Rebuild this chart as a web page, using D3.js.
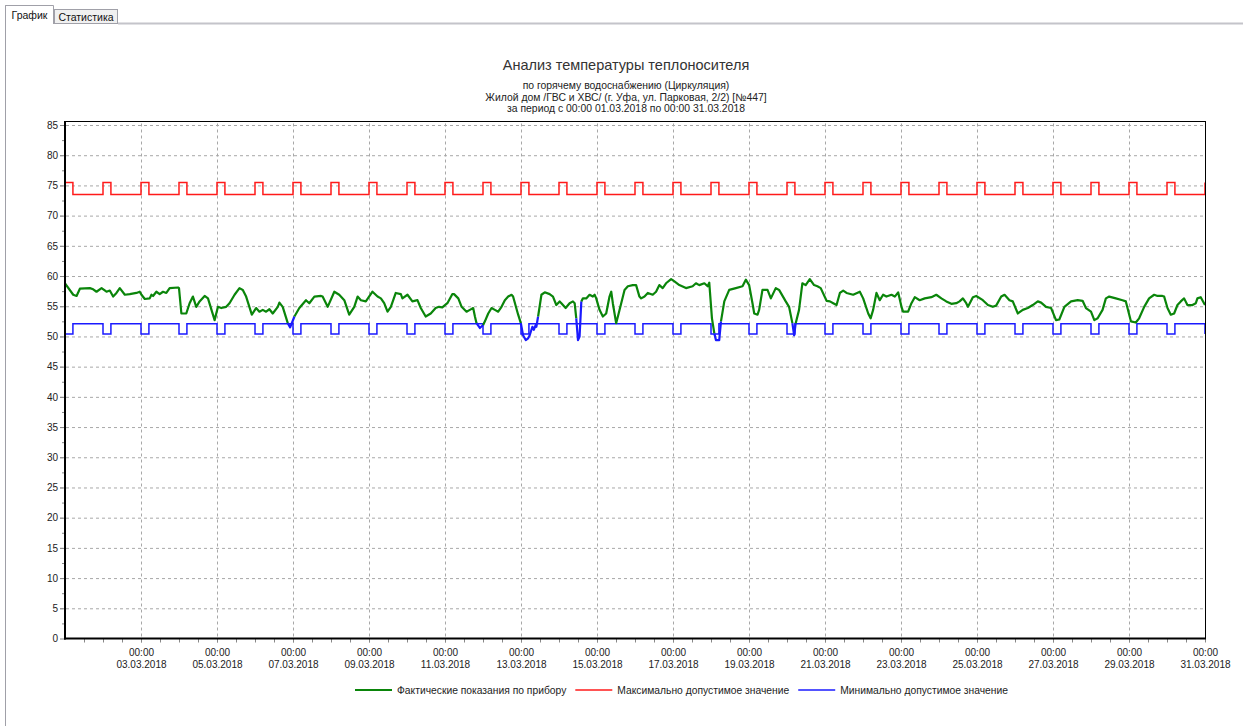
<!DOCTYPE html>
<html><head><meta charset="utf-8">
<script src="https://cdn.jsdelivr.net/npm/d3@7"></script>
<style>
html,body{margin:0;padding:0;background:#fff;}
svg{display:block;font-family:"Liberation Sans",Arial,sans-serif;}
</style></head><body>
<svg id="chart" width="1243" height="726"></svg>
<script>
// ---------------- DATA ----------------
const tabs = ["График", "Статистика"];
const title = "Анализ температуры теплоносителя";
const subtitleLines = [
  "по горячему водоснабжению (Циркуляция)",
  "Жилой дом /ГВС и ХВС/ (г. Уфа, ул. Парковая, 2/2) [№447]",
  "за период с 00:00 01.03.2018 по 00:00 31.03.2018"
];
const seriesNames = ["Фактические показания по прибору", "Максимально допустимое значение", "Минимально допустимое значение"];
const seriesColors = ["#0a850a", "#ff1a1a", "#1a1aff"];
const yTicks = [0,5,10,15,20,25,30,35,40,45,50,55,60,65,70,75,80,85];
const yMinorTicks = [2.5,7.5,12.5,17.5,22.5,27.5,32.5,37.5,42.5,47.5,52.5,57.5,62.5,67.5,72.5,77.5,82.5];
const xTickTime = "00:00";
const xTickLabels = ["03.03.2018","05.03.2018","07.03.2018","09.03.2018","11.03.2018","13.03.2018","15.03.2018",
  "17.03.2018","19.03.2018","21.03.2018","23.03.2018","25.03.2018","27.03.2018","29.03.2018","31.03.2018"];
const periodStart = "01.03.2018";
const periodEnd = "31.03.2018";
// allowed limits: night period (hours of day) and day level
const nightHours = [0, 5];
const maxLevels = {night: 75.5, day: 73.5};
const minLevels = {night: 50.4, day: 52.1};
// actual readings: [hours since 01.03.2018 00:00, °C]
const readings1 = [[0,58.8],[5.2,56.9],[7.3,56.7],[9.4,57.9],[15.7,58.0],[17.8,57.8],[19.9,57.4],[23.1,58.0],[26.2,57.4],[28.3,57.6],
 [30.4,56.6],[32.5,57.2],[34.6,58.0],[37.8,56.9],[40.9,57.0],[45.1,57.2],[47.2,57.4],[48.3,56.9],[50.4,56.2],[53.5,56.3],
 [54.6,56.9],[55.6,56.7],[57.7,57.4],[59.8,57.0],[61.9,57.4],[64.0,57.2],[66.1,58.0],[71.4,58.1],[72.0,58.0],[73.5,53.8],
 [76.6,53.8],[78.7,55.5],[80.8,56.6],[82.9,54.9],[85.0,55.8],[88.2,56.7],[90.3,56.3],[94.5,52.7],[96.6,54.9],[98.7,54.7],
 [101.8,54.9],[103.9,55.5],[107.1,56.9],[110.2,58.0],[112.3,57.7],[114.4,56.6],[118.0,53.6],[120.7,54.7],[122.8,54.1],[124.9,54.4],
 [127.0,54.1],[129.1,54.5],[131.2,53.8],[134.4,54.9],[135.4,55.6],[137.5,54.9],[140.7,52.2],[142.2,51.5],[144.9,53.3],[148.0,54.7],
 [152.2,56.0],[154.3,55.5],[157.5,56.6],[161.7,56.7],[162.7,56.6],[165.9,54.9],[170.1,57.4],[173.2,56.9],[176.4,56.0],[179.5,53.6],
 [182.7,54.9],[184.8,56.6],[186.9,56.0],[190.0,55.8],[194.2,57.4],[197.4,56.6],[199.5,56.3],[201.6,55.5],[203.7,54.1],[205.8,54.9],
 [208.9,57.2],[212.1,57.0],[213.1,56.3],[216.3,56.9],[219.4,55.8],[222.6,56.0],[224.7,54.7],[227.8,53.3],[231.0,53.8],[234.1,54.7],
 [236.2,54.9],[238.3,54.8],[241.5,55.5],[244.6,57.0]];
const readings2 = [[245.7,57.0],[248.4,56.3],[250.5,54.9],[253.6,54.1],[255.7,54.4],[257.8,54.7],[258.9,53.3],[259.9,52.2],[262.0,51.4],[264.1,51.9],
 [265.2,52.5],[267.3,53.8],[269.4,54.7],[271.5,54.4],[273.6,54.1],[275.7,54.9],[277.8,56.0],[279.9,56.6],[282.0,56.9],[283.0,56.6],
 [286.2,53.6],[287.9,52.2],[289.3,50.2],[291.0,49.4],[292.5,49.7],[293.5,50.2],[295.2,51.6],[296.1,51.1],[297.3,51.9],[297.7,51.6],
 [298.8,53.3],[300.9,56.9],[303.0,57.3],[306.1,57.0],[308.2,56.6],[310.3,55.2],[312.4,55.8],[313.5,55.5],[316.2,54.7],[318.7,55.5],
 [320.8,55.8],[321.9,55.5],[322.9,53.0],[324.0,49.4],[325.0,50.0],[326.1,55.8],[327.1,56.3],[329.2,56.3],[331.3,56.9],[333.4,56.6],
 [334.5,56.9],[335.5,56.3],[337.6,54.4],[339.7,53.3],[341.8,53.8],[343.9,56.6],[345.0,57.4],[346.0,55.5],[348.1,52.2],[349.2,53.3],
 [351.3,55.5],[353.4,57.7],[355.5,58.3],[358.6,58.5],[360.7,58.5],[362.8,56.6],[363.9,56.3],[366.0,56.6],[368.1,57.2],[371.2,56.9],
 [373.3,57.4],[375.4,58.5],[377.5,58.0],[379.6,58.8],[382.8,59.5],[384.9,59.1],[388.0,58.5],[392.2,58.0],[396.4,58.3],[398.5,58.8],
 [400.6,58.5],[403.8,58.8],[405.9,58.3],[406.9,58.9],[408.6,53.0],[410.1,50.5],[411.1,49.4],[413.2,49.4],[414.3,52.5],[416.4,55.8],
 [419.5,57.7],[423.7,58.0],[427.9,58.3],[430.0,59.4],[432.1,58.5],[434.2,55.5],[435.3,53.8],[437.4,53.6],[438.4,54.4],[440.5,57.7],
 [443.7,57.7],[445.8,56.3],[448.9,58.0],[451.0,57.7],[455.2,55.8],[457.3,54.9],[459.4,52.2],[460.5,50.2],[461.5,52.2],[463.6,54.4],
 [465.7,58.8],[467.8,58.5],[470.4,59.5],[473.1,58.5],[475.2,58.3],[477.3,58.0]];
const readings3 = [[481.0,55.9],[483.1,55.8],[485.2,55.5],[487.3,55.2],[489.4,57.2],[491.5,57.6],[493.6,57.2],[497.8,56.9],[502.0,57.4],[504.1,56.3],
 [507.3,53.8],[508.8,53.0],[510.4,54.4],[512.5,57.2],[514.6,56.0],[516.7,56.9],[518.8,56.6],[522.0,56.9],[524.1,56.6],[526.2,57.3],
 [528.3,54.9],[529.3,54.1],[532.5,54.1],[534.6,55.5],[536.7,56.5],[539.8,56.0],[543.0,56.3],[547.2,56.5],[550.3,56.9],[553.5,56.3],
 [556.6,55.8],[559.8,55.4],[562.9,55.5],[565.0,55.8],[567.1,56.3],[569.2,55.5],[570.3,54.9],[573.4,56.5],[575.5,56.7],[579.7,56.0],
 [582.9,55.2],[586.0,54.9],[588.1,55.1],[591.3,56.6],[593.4,56.9],[596.5,56.0],[598.6,55.8],[601.8,53.8],[604.9,54.4],[608.1,54.7],
 [611.2,55.2],[614.4,55.8],[616.5,55.6],[619.6,54.9],[622.8,54.7],[625.9,52.7],[628.0,52.8],[631.2,54.9],[635.4,55.8],[639.6,56.0],
 [642.7,55.9],[644.8,54.7],[648.0,54.1],[650.1,52.7],[652.2,53.0],[655.3,54.4],[657.4,56.3],[659.5,56.6],[663.7,56.3],[667.9,56.0],
 [670.0,55.8],[673.2,52.5],[676.3,52.3],[678.4,53.0],[681.6,54.9],[684.7,56.3],[687.9,56.9],[690.0,56.7],[693.1,56.7],[694.2,56.6],
 [696.3,54.7],[698.4,53.6],[700.5,53.8],[702.6,55.2],[704.7,55.8],[706.8,56.3],[708.9,55.2],[712.1,55.2],[714.2,55.5],[715.2,56.3],
 [717.3,56.5],[720.0,55.2]];

// ---------------- LAYOUT ----------------
const W = 1243, H = 726;
const plotLeft = 65, plotRight = 1205, plotTop = 121, plotBottom = 638.5;
const svg = d3.select("#chart");
const parseDay = d3.utcParse("%d.%m.%Y");
const t0 = parseDay(periodStart), t1 = parseDay(periodEnd);
const toDate = h => new Date(+t0 + h * 3600000);

const x = d3.scaleUtc().domain([t0, t1]).range([plotLeft, plotRight]);
const y = d3.scaleLinear().domain([0, 85]).range([plotBottom, 125]);

// ---------------- TABS ----------------
const tabG = svg.append("g");
tabG.append("line").attr("x1", 118).attr("x2", W).attr("y1", 23.5).attr("y2", 23.5)
  .attr("stroke", "#c4c4ca").attr("stroke-width", 2);
tabG.append("line").attr("x1", 5.5).attr("x2", 5.5).attr("y1", 5).attr("y2", H)
  .attr("stroke", "#a0a0a8").attr("stroke-width", 1);
tabG.append("rect").attr("x", 54.5).attr("y", 9.5).attr("width", 63).attr("height", 14)
  .attr("fill", "#f0f0f0").attr("stroke", "#a0a0a8");
tabG.append("path").attr("d", "M5.5,24 V5.5 H53.5 V24").attr("fill", "#fff").attr("stroke", "#a0a0a8");
tabG.append("text").attr("x", 29.5).attr("y", 19).attr("text-anchor", "middle")
  .attr("font-size", 10.5).attr("fill", "#111").text(tabs[0]);
tabG.append("text").attr("x", 86).attr("y", 20.5).attr("text-anchor", "middle")
  .attr("font-size", 10.5).attr("fill", "#111").text(tabs[1]);

// ---------------- TITLES ----------------
const cx = 626;
svg.append("text").attr("x", cx).attr("y", 70).attr("text-anchor", "middle")
  .attr("font-size", 14.5).attr("fill", "#333").text(title);
svg.selectAll("text.sub").data(subtitleLines).join("text").attr("class", "sub")
  .attr("x", cx).attr("y", (d, i) => 89 + i * 11.5).attr("text-anchor", "middle")
  .attr("font-size", 10.4).attr("fill", "#222").text(d => d);

// ---------------- GRID ----------------
const gridColor = "#a8a8a8";
const gy = svg.append("g").attr("transform", `translate(${plotLeft - 5},0)`)
  .call(d3.axisLeft(y).tickValues(yTicks.filter(v => v > 0)).tickSize(-(plotRight - plotLeft + 5)).tickFormat(""));
gy.select(".domain").remove();
gy.selectAll(".tick line").attr("stroke", gridColor).attr("stroke-dasharray", "3,3");

const xDates = xTickLabels.map(parseDay);
const gxg = svg.append("g").attr("transform", `translate(0,${plotBottom + 4})`)
  .call(d3.axisBottom(x).tickValues(xDates.filter(d => +d < +t1)).tickSize(-(plotBottom + 4 - plotTop)).tickFormat(""));
gxg.select(".domain").remove();
gxg.selectAll(".tick line").attr("stroke", gridColor).attr("stroke-dasharray", "3,3");

// minor ticks
const minorX = d3.utcHour.every(12).range(toDate(12), toDate(721));
const gmx = svg.append("g").attr("transform", `translate(0,${plotBottom})`)
  .call(d3.axisBottom(x).tickValues(minorX).tickSize(4).tickFormat(""));
gmx.select(".domain").remove();
gmx.selectAll(".tick line").attr("stroke", "#888");

const gmy = svg.append("g").attr("transform", `translate(${plotLeft},0)`)
  .call(d3.axisLeft(y).tickValues(yMinorTicks).tickSize(3).tickFormat(""));
gmy.select(".domain").remove();
gmy.selectAll(".tick line").attr("stroke", "#888");

// y labels
const gyl = svg.append("g").attr("transform", `translate(${plotLeft},0)`)
  .call(d3.axisLeft(y).tickValues(yTicks).tickSize(5).tickPadding(2));
gyl.select(".domain").remove();
gyl.selectAll(".tick line").attr("stroke", "#888");
gyl.selectAll(".tick text").attr("font-size", 10).attr("fill", "#222")
  .attr("font-family", "'Liberation Sans', Arial, sans-serif");

// x labels
const gxl = svg.append("g").attr("transform", `translate(0,${plotBottom})`)
  .call(d3.axisBottom(x).tickValues(xDates).tickSize(0).tickFormat(""));
gxl.select(".domain").remove();
gxl.selectAll(".tick").each(function(d, i) {
  const g = d3.select(this);
  g.append("text").attr("y", 17).attr("text-anchor", "middle").attr("font-size", 10).attr("fill", "#222").text(xTickTime);
  g.append("text").attr("y", 29).attr("text-anchor", "middle").attr("font-size", 10).attr("fill", "#222").text(xTickLabels[i]);
});

// ---------------- LIMIT SERIES ----------------
const isNight = h => { const hod = ((h % 24) + 24) % 24; return hod >= nightHours[0] && hod < nightHours[1]; };
const minAt = h => isNight(h) ? minLevels.night : minLevels.day;
const totalHours = (t1 - t0) / 3600000;
function limitPoints(levels) {
  const pts = [];
  for (let d = 0; d * 24 < totalHours; d++) {
    pts.push([d * 24 + nightHours[0], levels.night]);
    pts.push([d * 24 + nightHours[1], levels.day]);
  }
  pts.push([totalHours, levels.night]);
  return pts;
}
const stepLine = d3.line().x(d => x(toDate(d[0]))).y(d => y(d[1])).curve(d3.curveStepAfter);
svg.append("path").attr("d", stepLine(limitPoints(maxLevels))).attr("fill", "none")
  .attr("stroke", seriesColors[1]).attr("stroke-width", 1.5);
svg.append("path").attr("d", stepLine(limitPoints(minLevels))).attr("fill", "none")
  .attr("stroke", seriesColors[2]).attr("stroke-width", 1.5);

// ---------------- ACTUAL READINGS ----------------
const readings = readings1.concat(readings2, readings3);
const line = d3.line().x(d => x(toDate(d[0]))).y(d => y(d[1]));
const runs = [];
for (let i = 1; i < readings.length; i++) {
  const a = readings[i - 1], b = readings[i];
  const low = a[1] < minAt(a[0]) || b[1] < minAt(b[0]);
  const col = low ? seriesColors[2] : seriesColors[0];
  const last = runs[runs.length - 1];
  if (last && last.col === col) last.pts.push(b);
  else runs.push({col, pts: [a, b]});
}
svg.append("g").selectAll("path").data(runs).join("path")
  .attr("d", r => line(r.pts)).attr("fill", "none").attr("stroke", r => r.col)
  .attr("stroke-width", 2.2).attr("stroke-linejoin", "round");

// ---------------- FRAME ----------------
svg.append("line").attr("x1", plotLeft).attr("x2", plotRight).attr("y1", plotTop + 0.5).attr("y2", plotTop + 0.5).attr("stroke", "#000");
svg.append("line").attr("x1", plotRight + 0.5).attr("x2", plotRight + 0.5).attr("y1", plotTop).attr("y2", plotBottom).attr("stroke", "#000");
svg.append("line").attr("x1", plotLeft).attr("x2", plotLeft).attr("y1", plotTop).attr("y2", plotBottom + 1).attr("stroke", "#000").attr("stroke-width", 2);
svg.append("line").attr("x1", plotLeft - 1).attr("x2", plotRight + 1).attr("y1", plotBottom).attr("y2", plotBottom).attr("stroke", "#000").attr("stroke-width", 2);

// ---------------- LEGEND ----------------
const legend = svg.append("g").attr("transform", "translate(355,690)");
let lx = 0;
seriesNames.forEach((name, i) => {
  legend.append("line").attr("x1", lx).attr("x2", lx + 37).attr("y1", 0).attr("y2", 0)
    .attr("stroke", seriesColors[i]).attr("stroke-width", i === 0 ? 2.2 : 1.5);
  const t = legend.append("text").attr("x", lx + 42).attr("y", 3.5).attr("font-size", 10.3).attr("fill", "#222").text(name);
  lx += 42 + t.node().getComputedTextLength() + 9;
});
</script>
</body></html>
